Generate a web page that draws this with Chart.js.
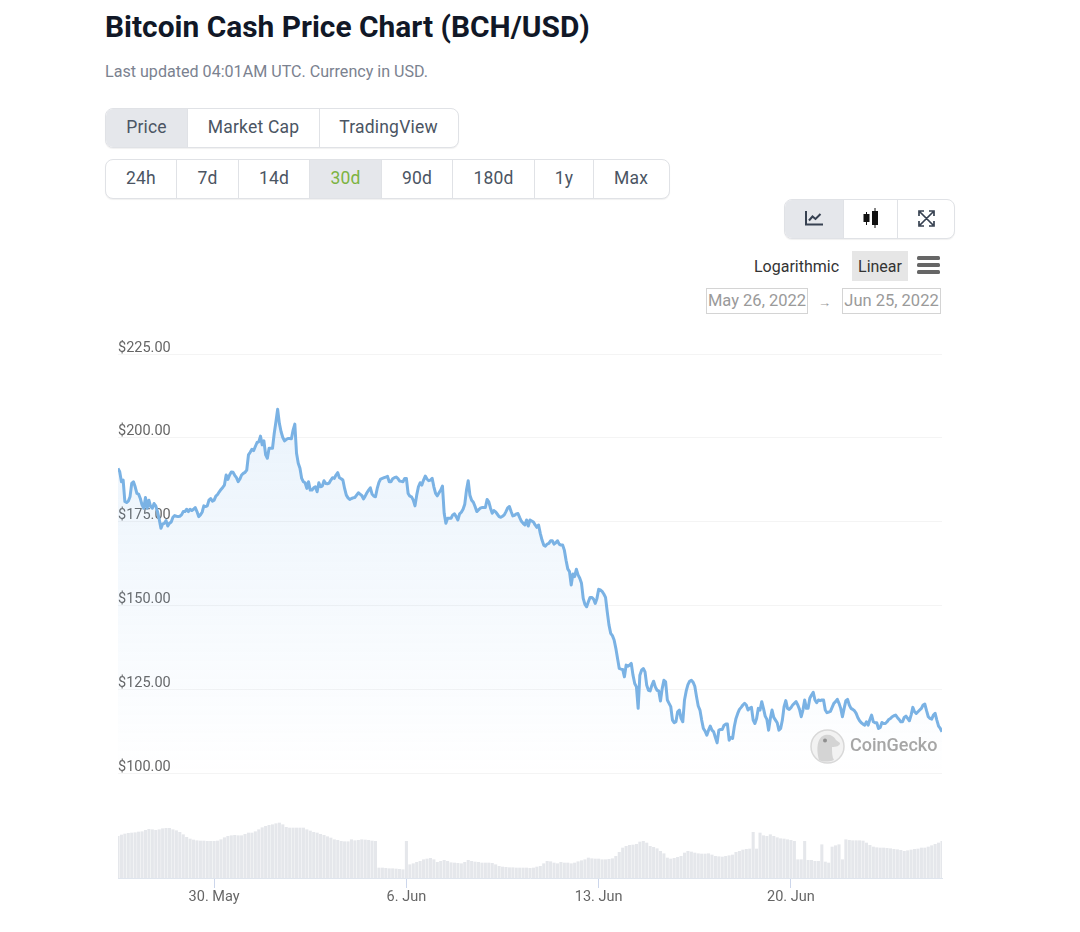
<!DOCTYPE html>
<html>
<head>
<meta charset="utf-8">
<title>Bitcoin Cash Price Chart</title>
<script src="https://cdn.jsdelivr.net/npm/chart.js@4/dist/chart.umd.min.js"></script>
<style>
  html, body { margin: 0; padding: 0; background: #fff; }
  body { position: relative; width: 1080px; height: 932px; overflow: hidden; font-family: Roboto, sans-serif; color: #4b5563; }
  .abs { position: absolute; white-space: nowrap; }
  h1 { position: absolute; left: 105px; top: 8px; margin: 0; font-size: 29.9px; line-height: 38px; font-weight: 700; color: #111827; white-space: nowrap; }
  .group { position: absolute; display: flex; box-sizing: border-box; border: 1.5px solid #e0e2e6; border-radius: 8px; overflow: hidden; background: #fff; box-shadow: 0 1px 1px rgba(0,0,0,.06); }
  .group div { box-sizing: border-box; display: flex; align-items: center; justify-content: center; font-size: 17.5px; letter-spacing: .2px; border-right: 1.5px solid #e0e2e6; height: 100%; padding-bottom: 2px; }
  .group div:last-child { border-right: 0; }
  .group .on { background: #e5e7eb; }
  .date { position: absolute; box-sizing: border-box; top: 288px; height: 26px; border: 1.5px solid #d4d4d4; color: #9a9a9a; font-size: 16.5px; line-height: 23px; text-align: center; }
  #chart { position: absolute; left: 100px; top: 340px; }
</style>
</head>
<body>
<h1>Bitcoin Cash Price Chart (BCH/USD)</h1>
<div class="abs" style="left:105px;top:63px;font-size:16.1px;line-height:18px;color:#7b8290">Last updated 04:01AM UTC. Currency in USD.</div>

<div class="group" style="left:105px;top:108px;width:354px;height:40px">
  <div class="on" style="width:82px">Price</div><div style="width:132px">Market Cap</div><div style="width:137px">TradingView</div>
</div>
<div class="group" style="left:105px;top:159px;width:565px;height:40px">
  <div style="width:71px">24h</div><div style="width:62px">7d</div><div style="width:71px">14d</div><div class="on" style="width:72px;color:#7cb342">30d</div><div style="width:71px">90d</div><div style="width:82px">180d</div><div style="width:59px">1y</div><div style="width:74px">Max</div>
</div>
<div class="group" style="left:784px;top:199px;width:171px;height:40px">
  <div class="on" style="width:59px">
    <svg width="18" height="15" viewBox="0 0 18 15"><path d="M1 0v13.500h17" fill="none" stroke="#374151" stroke-width="2"/><path d="M4 9.500l3.500-4 3 2.500 5-5" fill="none" stroke="#374151" stroke-width="2"/></svg>
  </div>
  <div style="width:54px">
    <svg width="18" height="20" viewBox="0 0 18 20"><path d="M4.500 4v13M13 0v20" stroke="#111" stroke-width="1"/><rect x="1.500" y="6" width="6" height="8" fill="#111"/><rect x="10" y="3" width="6" height="14" fill="#111"/></svg>
  </div>
  <div style="width:56px">
    <svg width="17" height="17" viewBox="0 0 17 17"><path d="M2 2l13 13M15 2L2 15M1 6V1h5M11 1h5v5M1 11v5h5M16 11v5h-5" fill="none" stroke="#374151" stroke-width="1.700"/></svg>
  </div>
</div>

<div class="abs" style="left:754px;top:257px;font-size:16px;line-height:19px;color:#333">Logarithmic</div>
<div class="abs" style="left:852px;top:251px;width:56px;height:30px;background:#e6e6e6;font-size:16px;line-height:31px;text-align:center;color:#333">Linear</div>
<svg class="abs" style="left:917px;top:256px" width="23" height="18"><rect width="23" height="4" y="0" rx="1.500" fill="#666"/><rect width="23" height="4" y="7" rx="1.500" fill="#666"/><rect width="23" height="4" y="14" rx="1.500" fill="#666"/></svg>
<div class="date" style="left:706px;width:102px">May 26, 2022</div>
<div class="abs" style="left:818px;top:295px;font-size:13px;line-height:16px;color:#9a9a9a">→</div>
<div class="date" style="left:842px;width:99px">Jun 25, 2022</div>

<canvas id="chart" width="860" height="578"></canvas>

<svg class="abs" style="left:810px;top:729px" width="35" height="35" viewBox="0 0 35 35">
  <circle cx="17.500" cy="17.500" r="16.500" fill="#f2f2f2" stroke="#d8d8d8" stroke-width="1.500"/>
  <path d="M9 31C6 20 7 8 15 6c5-1 9 1 11 5l4 3c0 3-4 4-8 4 0 5 0 10 2 13-5 2-11 2-15 0z" fill="#d4d4d4"/>
  <circle cx="15" cy="11.500" r="2" fill="#8f8f8f"/>
</svg>
<div class="abs" style="left:850px;top:734px;font-size:18px;line-height:22px;font-weight:500;color:#a6a6a6">CoinGecko</div>

<script>
// both series start on May 26 12:00 UTC and cover 30 days
const rangeHours = 720;
const priceStepHours = 1.5;
const volumeStepHours = 3;

const prices = [
  190.9, 189.9, 186.9, 187.4, 181, 180.7, 181.1, 182.4, 186.4, 186.9,
  185.4, 183.4, 183.2, 181.9, 180, 179, 182.2, 179, 181.4, 179.5,
  179, 180.4, 179.7, 178, 175.7, 173, 174.3, 174.5, 175.3, 173.7,
  174.5, 174.9, 176.3, 176.8, 176.6, 176.5, 176.6, 177, 178, 178,
  178.7, 178, 178.7, 178.3, 178.7, 179.2, 178, 176.5, 177, 177.8,
  179.7, 179.5, 179.7, 181.4, 181.9, 181.1, 181.4, 182.6, 183.1, 183.9,
  184.6, 185.2, 185.9, 188.9, 187.6, 188.9, 189.8, 189.7, 188.8, 188.1,
  186.9, 187.7, 188.9, 189.4, 189.7, 190.4, 194.9, 195.7, 196.6, 196.2,
  197.4, 198.6, 198.8, 200.5, 197.9, 199.1, 194.9, 193.9, 196.9, 196.9,
  196.9, 201.3, 204.8, 208.5, 204.3, 201.8, 200.1,
  199.1, 199.5, 199.8, 199.8, 199.7, 202.3, 204.1, 195.4, 192.4, 190.9,
  187.9, 186.9, 186.6, 184.9, 186.9, 184.4, 184.4, 185.1, 185.4, 183.9,
  186.6, 185.4, 185.6, 187.2, 186.4, 186.3, 186.5, 187.4, 188.1, 187.9,
  188.9, 189.6, 188.1, 187.8, 187.4, 184.9, 182.9, 182.1, 181.6, 181.9,
  182.1, 182.2, 182.9, 183.6, 183.2, 182.8, 181.8, 182.6, 183.6, 184.4,
  185.1, 183.2, 182.6, 182.4, 184.9, 186.7, 187.7, 187.9, 188.1, 188.3,
  188.5, 186.9, 186.9, 187.8, 188.1, 188.3, 187.9, 187.1, 187, 186.9,
  187.9, 187.9, 183.4, 182.6, 182.4, 181.4, 179.7, 182.9, 185.4, 186.6,
  185.9, 187.4, 188.6, 187.7, 187.2, 187.4, 187.9, 185.4, 183.4, 182.7,
  183.6, 184.4, 185.6, 177.5, 174.5, 176,
  176, 176, 177, 177.3, 176.5, 175.5, 177.3, 177.8, 178.7, 180.2,
  184.4, 187.2, 182.9, 181.4, 180.8, 179.5, 178, 178.5, 179, 179.2,
  179.2, 179.2, 181.6, 180.9, 179, 177.5, 178.3, 177.9, 177.2, 176.5,
  176.3, 176.6, 177, 178, 179.1, 179.5, 178, 176.7, 176.9, 177.3,
  177.4, 176.2, 175.1, 174.5, 174, 175.5, 173.7, 175.5, 175.2, 174.9,
  174, 173.3, 174, 171.5, 169.5, 168, 167.7, 168.3, 168.5, 169.3,
  169.3, 168.3, 168.7, 169.3, 168.3, 168, 168, 166.5, 163.5, 160.9,
  160.1, 156.1, 159.4, 158.6, 160.8, 159.1, 158.1, 156.6, 152.1, 150.3,
  149.6, 151.1, 152.4, 152.4, 151.9, 150.6, 152.1, 154.8, 154.6, 154.2,
  153.4, 152.4, 148.1, 144.2,
  141.7, 141, 139.7, 137.2, 134.2, 131.2, 131, 130.9, 128.7, 132.2,
  131.9, 132.2, 132.7, 129.2, 126.7, 125.7, 119.3, 129.2, 130.7, 131.2,
  130.2, 126.2, 124.7, 124.5, 126.2, 127.4, 125.7, 124.7, 124.5, 121.5,
  125.2, 127.7, 127.2, 121.8, 120.8, 119.8, 115.8, 115, 115.3, 118.3,
  118.8, 116.3, 115.3, 121.8, 124.5, 126.4, 127.4, 127.7, 127.1, 125.9,
  122.8, 120, 118.8, 115.8, 113.3, 112.5, 111.3, 112.8, 114, 112.8,
  112.3, 110.6, 109, 112.8, 113, 113, 114.2, 114.6, 114.6, 109.8,
  110.6, 110.3, 113.8, 116.3, 117.8, 119, 119.6, 120.3, 120.8, 120.3,
  118.8, 119.3, 119.6, 115.8, 114.8, 116.3, 119.3, 118.8, 121.3, 119.3,
  117, 116, 112.8, 116.3, 118.8, 116.6, 115.8, 115, 112.8,
  113.3, 115.8, 119.8, 121.6, 119.3, 119, 119.5, 120.3, 120.8, 121.3,
  120.3, 119, 116.8, 118.8, 121.8, 119.3, 119.3, 122.3, 123.3, 124.1,
  121.8, 121, 121.8, 121.6, 121.8, 121.8, 118.8, 118, 118.2, 118.4,
  119.6, 120.8, 121.3, 122, 120.8, 119.3, 116.8, 119.3, 121.6, 122,
  120.3, 119.3, 119, 118.6, 117.8, 116.5, 115.6, 115, 114.6, 114.3,
  115.3, 114.3, 116, 117.3, 115.3, 115, 115, 113.3, 113.6, 115.1,
  114.8, 114.8, 115.3, 116, 116.3, 116.8, 117.1, 117.3, 116.6, 116,
  115.3, 115.3, 116.6, 117, 116.3, 115.6, 117.3, 119.6, 118.3, 117.8,
  118.3, 118.8, 119.3, 120.3, 120.6, 118.6, 116.8, 116.3, 116.1, 117.3,
  117.8, 115.8, 114, 113.3, 112.3
];

// volume in $M, no scale is shown in the original so only the shape counts
const volumes = [
  417, 430, 440, 447, 450, 453, 460, 463, 477, 487,
  483, 477, 483, 493, 497, 497, 483, 473, 457, 433,
  407, 390, 380, 373, 370, 370, 367, 367, 367, 370,
  383, 403, 417, 423, 427, 423, 423, 437, 450, 450,
  463, 483, 503, 517, 527, 533, 543, 550, 533, 507,
  500, 500, 500, 500, 500, 483, 470, 457, 450, 437,
  427, 413, 400, 383, 377, 367, 363, 363, 383, 373,
  377, 383, 380, 377, 370, 367, 100, 100, 97, 93,
  93, 90, 87, 83, 367, 133, 143, 157, 167, 183,
  190, 197, 183, 157, 167, 177, 167, 153, 150, 147,
  143, 157, 177, 167, 160, 157, 150, 150, 150, 147,
  133, 117, 110, 107, 103, 103, 100, 100, 100, 100,
  97, 100, 110, 117, 143, 167, 163, 150, 143, 157,
  150, 150, 143, 150, 163, 173, 183, 200, 193, 190,
  190, 183, 183, 187, 193, 217, 257, 300, 317, 327,
  330, 337, 360, 367, 350, 317, 307, 293, 267, 243,
  200, 190, 197, 207, 217, 250, 267, 260, 250, 243,
  240, 240, 243, 230, 217, 213, 210, 217, 223, 230,
  257, 267, 280, 287, 290, 457, 290, 450, 423, 417,
  433, 417, 403, 393, 390, 383, 377, 367, 183, 183,
  367, 177, 177, 167, 167, 333, 160, 150, 310, 323,
  333, 183, 383, 377, 373, 373, 373, 370, 350, 327,
  310, 303, 300, 300, 297, 293, 287, 283, 277, 267,
  273, 280, 287, 290, 300, 300, 310, 323, 337, 350,
  367
];

const priceTicks = [100, 125, 150, 175, 200, 225];
const dateTickHours = [84, 252, 420, 588];
const dateTickLabels = ['30. May', '6. Jun', '13. Jun', '20. Jun'];

const fontFamily = 'Roboto, sans-serif';

function areaGradient(context) {
    const chart = context.chart;
    if (!chart.chartArea || !chart.scales.y) {
        return 'rgba(124,181,236,0.1)';
    }
    const top = chart.scales.y.getPixelForValue(210);
    const bottom = chart.scales.y.getPixelForValue(100);
    const gradient = chart.ctx.createLinearGradient(0, top, 0, bottom);
    gradient.addColorStop(0, 'rgba(124,181,236,0.16)');
    gradient.addColorStop(1, 'rgba(124,181,236,0)');
    return gradient;
}

new Chart(document.getElementById('chart'), {
    data: {
        datasets: [
            {
                type: 'line',
                label: 'Price',
                yAxisID: 'y',
                data: prices.map((p, i) => ({ x: i * priceStepHours, y: p })),
                borderColor: '#7ab2e4',
                borderWidth: 3,
                borderJoinStyle: 'round',
                backgroundColor: areaGradient,
                fill: { value: 100 },
                pointRadius: 0,
                tension: 0,
                order: 1
            },
            {
                type: 'bar',
                label: 'Volume',
                yAxisID: 'yVolume',
                data: volumes.map((v, i) => ({ x: i * volumeStepHours, y: v })),
                backgroundColor: '#e5e7eb',
                barThickness: 2.4,
                order: 2
            }
        ]
    },
    options: {
        responsive: false,
        animation: false,
        layout: { padding: { left: 18, right: 18, top: 14, bottom: 0 } },
        plugins: {
            legend: { display: false },
            tooltip: { enabled: false }
        },
        scales: {
            x: {
                type: 'linear',
                min: 0,
                max: rangeHours,
                offset: false,
                afterBuildTicks: axis => { axis.ticks = dateTickHours.map(value => ({ value })); },
                afterFit: axis => { axis.height = 40; },
                grid: { offset: false, drawOnChartArea: false, drawTicks: true, tickLength: 10, tickColor: '#ccd6eb' },
                border: { color: '#dfe5ee' },
                ticks: {
                    autoSkip: false,
                    maxRotation: 0,
                    padding: 1,
                    color: '#666',
                    font: { family: fontFamily, size: 14.5 },
                    callback: (value, index) => dateTickLabels[index]
                }
            },
            y: {
                position: 'left',
                min: 68.7,
                max: 225,
                afterBuildTicks: axis => { axis.ticks = priceTicks.map(value => ({ value })); },
                grid: { color: '#f4f4f4', drawTicks: false },
                border: { display: false },
                ticks: {
                    mirror: true,
                    padding: 0,
                    labelOffset: -6,
                    color: '#666',
                    font: { family: fontFamily, size: 14.5 },
                    callback: value => '$' + value.toFixed(2)
                }
            },
            yVolume: {
                display: false,
                min: 0,
                max: 5240
            }
        }
    }
});
</script>
</body>
</html>
